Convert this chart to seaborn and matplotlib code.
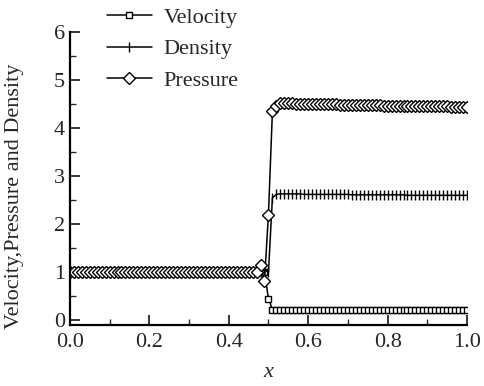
import matplotlib
matplotlib.use("Agg")
import matplotlib.pyplot as plt
from matplotlib.ticker import MultipleLocator
import seaborn as sns
import pandas as pd

x = [0.00, 0.01, 0.02, 0.03, 0.04, 0.05, 0.06, 0.07, 0.08, 0.09,
     0.10, 0.11, 0.12, 0.13, 0.14, 0.15, 0.16, 0.17, 0.18, 0.19,
     0.20, 0.21, 0.22, 0.23, 0.24, 0.25, 0.26, 0.27, 0.28, 0.29,
     0.30, 0.31, 0.32, 0.33, 0.34, 0.35, 0.36, 0.37, 0.38, 0.39,
     0.40, 0.41, 0.42, 0.43, 0.44, 0.45, 0.46, 0.47, 0.48, 0.49,
     0.50, 0.51, 0.52, 0.53, 0.54, 0.55, 0.56, 0.57, 0.58, 0.59,
     0.60, 0.61, 0.62, 0.63, 0.64, 0.65, 0.66, 0.67, 0.68, 0.69,
     0.70, 0.71, 0.72, 0.73, 0.74, 0.75, 0.76, 0.77, 0.78, 0.79,
     0.80, 0.81, 0.82, 0.83, 0.84, 0.85, 0.86, 0.87, 0.88, 0.89,
     0.90, 0.91, 0.92, 0.93, 0.94, 0.95, 0.96, 0.97, 0.98, 0.99,
     1.00]

velocity = [1.00, 1.00, 1.00, 1.00, 1.00, 1.00, 1.00, 1.00, 1.00, 1.00,
            1.00, 1.00, 1.00, 1.00, 1.00, 1.00, 1.00, 1.00, 1.00, 1.00,
            1.00, 1.00, 1.00, 1.00, 1.00, 1.00, 1.00, 1.00, 1.00, 1.00,
            1.00, 1.00, 1.00, 1.00, 1.00, 1.00, 1.00, 1.00, 1.00, 1.00,
            1.00, 1.00, 1.00, 1.00, 1.00, 1.00, 1.00, 1.00, 1.00, 1.00,
            0.45, 0.22, 0.22, 0.22, 0.22, 0.22, 0.22, 0.22, 0.22, 0.22,
            0.22, 0.22, 0.22, 0.22, 0.22, 0.22, 0.22, 0.22, 0.22, 0.22,
            0.22, 0.22, 0.22, 0.22, 0.22, 0.22, 0.22, 0.22, 0.22, 0.22,
            0.22, 0.22, 0.22, 0.22, 0.22, 0.22, 0.22, 0.22, 0.22, 0.22,
            0.22, 0.22, 0.22, 0.22, 0.22, 0.22, 0.22, 0.22, 0.22, 0.22,
            0.22]

density = [1.00, 1.00, 1.00, 1.00, 1.00, 1.00, 1.00, 1.00, 1.00, 1.00,
           1.00, 1.00, 1.00, 1.00, 1.00, 1.00, 1.00, 1.00, 1.00, 1.00,
           1.00, 1.00, 1.00, 1.00, 1.00, 1.00, 1.00, 1.00, 1.00, 1.00,
           1.00, 1.00, 1.00, 1.00, 1.00, 1.00, 1.00, 1.00, 1.00, 1.00,
           1.00, 1.00, 1.00, 1.00, 1.00, 1.00, 1.00, 1.00, 1.00, 1.05,
           1.00, 2.55, 2.62, 2.63, 2.63, 2.63, 2.63, 2.63, 2.63, 2.62,
           2.62, 2.62, 2.62, 2.62, 2.62, 2.62, 2.62, 2.62, 2.62, 2.62,
           2.62, 2.61, 2.61, 2.61, 2.61, 2.61, 2.61, 2.61, 2.61, 2.61,
           2.61, 2.61, 2.61, 2.61, 2.61, 2.60, 2.60, 2.60, 2.60, 2.60,
           2.60, 2.60, 2.60, 2.60, 2.60, 2.60, 2.60, 2.60, 2.60, 2.60,
           2.60]

pressure = [1.00, 1.00, 1.00, 1.00, 1.00, 1.00, 1.00, 1.00, 1.00, 1.00,
            1.00, 1.00, 1.00, 1.00, 1.00, 1.00, 1.00, 1.00, 1.00, 1.00,
            1.00, 1.00, 1.00, 1.00, 1.00, 1.00, 1.00, 1.00, 1.00, 1.00,
            1.00, 1.00, 1.00, 1.00, 1.00, 1.00, 1.00, 1.00, 1.00, 1.00,
            1.00, 1.00, 1.00, 1.00, 1.00, 1.00, 1.00, 1.00, 1.15, 0.82,
            2.20, 4.35, 4.47, 4.52, 4.52, 4.52, 4.52, 4.51, 4.51, 4.51,
            4.51, 4.51, 4.50, 4.50, 4.50, 4.50, 4.50, 4.50, 4.49, 4.49,
            4.49, 4.49, 4.49, 4.48, 4.48, 4.48, 4.48, 4.48, 4.48, 4.47,
            4.47, 4.47, 4.47, 4.47, 4.47, 4.46, 4.46, 4.46, 4.46, 4.46,
            4.46, 4.45, 4.45, 4.45, 4.45, 4.45, 4.44, 4.44, 4.44, 4.44,
            4.44]

df = pd.DataFrame({"x": x, "Velocity": velocity, "Density": density, "Pressure": pressure})

sns.set_style("ticks")
plt.rcParams["font.family"] = ["Liberation Serif", "DejaVu Serif"]

fig = plt.figure(figsize=(4.85, 3.86), dpi=100)
ax = fig.add_axes([0.144, 0.158, 0.819, 0.759])

sns.lineplot(data=df, x="x", y="Velocity", ax=ax, color="black", lw=1.1,
             marker="s", markersize=5, markerfacecolor="white",
             markeredgecolor="black", markeredgewidth=1.0, label="Velocity")
sns.lineplot(data=df, x="x", y="Density", ax=ax, color="black", lw=1.1,
             marker="|", markersize=7, markeredgecolor="black",
             markeredgewidth=1.0, label="Density")
sns.lineplot(data=df, x="x", y="Pressure", ax=ax, color="black", lw=1.1,
             marker="D", markersize=6, markerfacecolor="white",
             markeredgecolor="black", markeredgewidth=1.0, label="Pressure")

ax.set_xlim(0.0, 1.0)
ax.set_ylim(-0.1, 6.0)
ax.xaxis.set_minor_locator(MultipleLocator(0.1))
ax.yaxis.set_minor_locator(MultipleLocator(0.5))
ax.set_xticks([0.0, 0.2, 0.4, 0.6, 0.8, 1.0])
ax.set_xticklabels(["0.0", "0.2", "0.4", "0.6", "0.8", "1.0"])
ax.set_yticks([0, 1, 2, 3, 4, 5, 6])
ax.tick_params(axis="x", which="major", pad=6)
ax.tick_params(which="major", direction="in", length=7, width=1.3, labelsize=16)
ax.tick_params(which="minor", direction="in", length=4, width=1.0)

for s in ["top", "right"]:
    ax.spines[s].set_visible(False)
for s in ["left", "bottom"]:
    ax.spines[s].set_linewidth(1.6)
    ax.spines[s].set_color("black")

ax.set_xlabel("x", fontsize=16, style="italic", labelpad=8)
ax.set_ylabel("Velocity,Pressure and Density", fontsize=16)
ax.yaxis.set_label_coords(-0.115, 0.44)

ax.legend(loc="upper left", bbox_to_anchor=(0.198, 1.01), bbox_transform=fig.transFigure,
          frameon=False, fontsize=16, handlelength=2.0, handletextpad=0.55,
          labelspacing=0.5, borderpad=0.0)

fig.savefig("out.png", dpi=100)
